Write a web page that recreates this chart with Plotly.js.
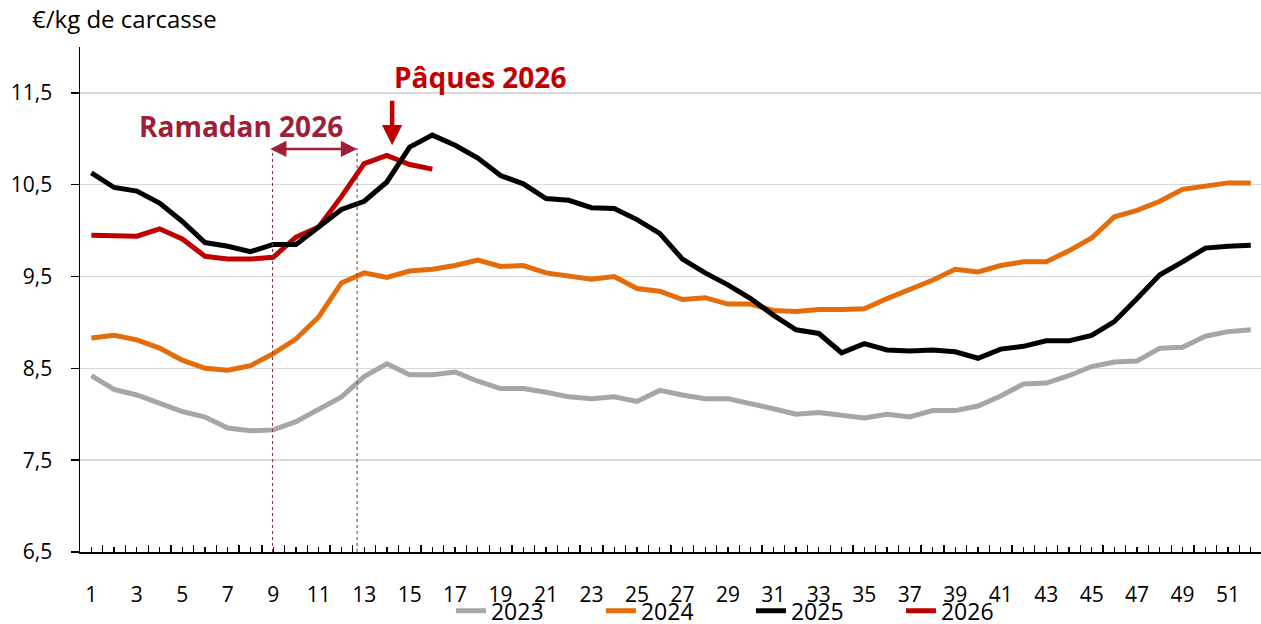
<!DOCTYPE html>
<html>
<head>
<meta charset="utf-8">
<script src="https://cdn.plot.ly/plotly-3.0.1.min.js"></script>
<style>
html,body{margin:0;padding:0;background:#fff;}
#chart{width:1261px;height:624px;}
</style>
</head>
<body>
<div id="chart"></div>
<script>
// Weeks 1..52
var weeks = [];
for (var i = 1; i <= 52; i++) weeks.push(i);
var weeks2026 = [1,2,3,4,5,6,7,8,9,10,11,12,13,14,15,16];

var tickLabels = weeks.map(function(w){ return (w % 2 === 1) ? String(w) : ''; });

var series2023 = [8.42,8.27,8.21,8.12,8.03,7.97,7.85,7.82,7.83,7.92,8.05,8.19,8.41,8.55,8.43,8.43,
  8.46,8.36,8.28,8.28,8.24,8.19,8.17,8.19,8.14,8.26,8.21,8.17,8.17,8.12,8.06,8.00,8.02,7.99,
  7.96,8.00,7.97,8.04,8.04,8.09,8.20,8.33,8.34,8.42,8.52,8.57,8.58,8.72,8.73,8.85,8.90,8.92];
var series2024 = [8.83,8.86,8.81,8.72,8.59,8.50,8.48,8.53,8.66,8.82,9.06,9.43,9.54,9.49,9.56,9.58,
  9.62,9.68,9.61,9.62,9.54,9.50,9.47,9.50,9.37,9.34,9.25,9.27,9.20,9.20,9.13,9.12,9.14,9.14,
  9.15,9.26,9.36,9.46,9.58,9.55,9.62,9.66,9.66,9.78,9.92,10.15,10.22,10.32,10.45,10.49,10.52,10.52];
var series2025 = [10.63,10.47,10.43,10.30,10.10,9.87,9.83,9.77,9.85,9.85,10.04,10.23,10.32,10.53,10.91,11.04,
  10.93,10.79,10.60,10.51,10.35,10.33,10.25,10.24,10.12,9.97,9.69,9.54,9.41,9.26,9.08,8.92,8.88,8.67,
  8.77,8.70,8.69,8.70,8.68,8.61,8.71,8.74,8.80,8.80,8.86,9.01,9.26,9.52,9.66,9.81,9.83,9.84];
var series2026 = [9.95,9.94,9.94,10.02,9.91,9.72,9.69,9.69,9.71,9.93,10.04,10.37,10.73,10.82,10.72,10.67];

var yTicks = [6.5,7.5,8.5,9.5,10.5,11.5];

var colors = {c2023:'#A6A6A6', c2024:'#E46C0A', c2025:'#000000', c2026:'#C00000', ramadan:'#9E1F37'};
var FONT = '"Open Sans", "Noto Sans", sans-serif';

function tr(x, y, name, color, rank) {
  return {x:x, y:y, name:name, type:'scatter', mode:'lines', legendrank:rank,
    line:{color:color, width:5}, hoverinfo:'skip'};
}

var data = [
  tr(weeks, series2023, '2023', colors.c2023, 1),
  tr(weeks, series2024, '2024', colors.c2024, 2),
  tr(weeks2026, series2026, '2026', colors.c2026, 4),
  tr(weeks, series2025, '2025', colors.c2025, 3)
];

var layout = {
  width:1261, height:624,
  margin:{l:80, r:0, t:47, b:72, autoexpand:false},
  paper_bgcolor:'#ffffff', plot_bgcolor:'#ffffff',
  separators:', ',
  font:{family:FONT, color:'#000', size:21},
  showlegend:true,
  legend:{orientation:'h', xref:'container', yref:'container', x:0.3576, xanchor:'left',
    y:0.021, yanchor:'middle',
    font:{size:23, color:'#000'}, entrywidth:105, entrywidthmode:'pixels',
    traceorder:'normal', bgcolor:'rgba(0,0,0,0)'},
  xaxis:{range:[0.5,52.45], tickmode:'array', tickvals:weeks, ticktext:tickLabels,
    ticks:'inside', ticklen:5, tickwidth:1.3, tickcolor:'#000',
    minor:{tickmode:'linear', tick0:0.5, dtick:1, ticks:'inside', ticklen:7, tickwidth:1.3, tickcolor:'#000'},
    showline:true, linecolor:'#000', linewidth:1.5, showgrid:false, zeroline:false,
    ticklabelstandoff:23, tickfont:{size:21, color:'#000'}, fixedrange:true, automargin:false},
  yaxis:{range:[6.5,12.0], tickmode:'array', tickvals:yTicks, tickformat:'.1f',
    ticks:'outside', ticklen:8, tickwidth:1.5, tickcolor:'#000',
    showline:true, linecolor:'#000', linewidth:1.5, showgrid:true, gridcolor:'#D9D9D9', gridwidth:1.5,
    zeroline:false, ticklabelstandoff:14, tickfont:{size:21, color:'#000'}, fixedrange:true, automargin:false},
  shapes:[
    {type:'line', xref:'x', yref:'y', x0:8.97, x1:8.97, y0:6.5, y1:10.9,
      line:{color:colors.ramadan, width:1, dash:'dot'}},
    {type:'line', xref:'x', yref:'y', x0:12.69, x1:12.69, y0:6.5, y1:10.9,
      line:{color:colors.ramadan, width:1, dash:'dot'}}
  ],
  annotations:[
    {xref:'paper', yref:'paper', x:-0.0423, y:1.057, xanchor:'left', yanchor:'middle',
      text:'€/kg de carcasse', showarrow:false, font:{size:24, color:'#000'}},
    {xref:'x', yref:'y', x:7.6, y:11.14, xanchor:'center', yanchor:'middle',
      text:'<b>Ramadan 2026</b>', showarrow:false, font:{size:28, color:colors.ramadan}},
    {xref:'x', yref:'y', x:18.1, y:11.67, xanchor:'center', yanchor:'middle',
      text:'<b>Pâques 2026</b>', showarrow:false, font:{size:28, color:colors.c2026}},
    {xref:'x', yref:'y', x:14.23, y:10.93, ax:0, ay:-46, text:'', showarrow:true,
      arrowhead:2, arrowsize:0.9, arrowwidth:4.5, arrowcolor:colors.c2026},
    {xref:'x', yref:'y', x:12.69, y:10.89, axref:'x', ayref:'y', ax:8.8, ay:10.89, text:'',
      showarrow:true, arrowside:'end+start', arrowhead:2, arrowsize:1.3, arrowwidth:2.5,
      arrowcolor:colors.ramadan}
  ]
};

Plotly.newPlot('chart', data, layout, {displayModeBar:false, staticPlot:true});
</script>
</body>
</html>
